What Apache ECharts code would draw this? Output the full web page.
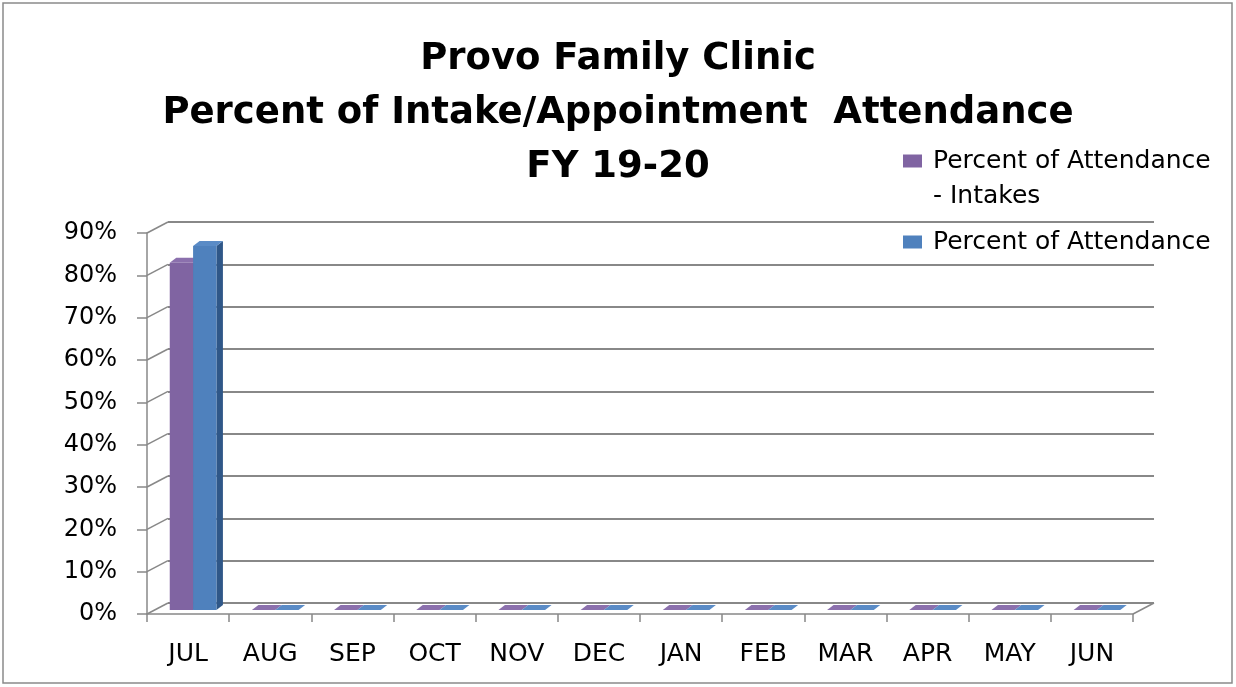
<!DOCTYPE html>
<html><head><meta charset="utf-8">
<script src="https://cdn.jsdelivr.net/npm/echarts@6/dist/echarts.min.js"></script>
<style>html,body{margin:0;padding:0;background:#fff}#c{width:1236px;height:687px}</style>
</head><body><div id="c"></div>
<script>
// ---- data ----
const months = ['JUL','AUG','SEP','OCT','NOV','DEC','JAN','FEB','MAR','APR','MAY','JUN'];
const intakesPct = [0.82,0,0,0,0,0,0,0,0,0,0,0];
const attendancePct = [0.86,0,0,0,0,0,0,0,0,0,0,0];
const yTickValues = [0,0.1,0.2,0.3,0.4,0.5,0.6,0.7,0.8,0.9];
const seriesNames = ['Percent of Attendance - Intakes','Percent of Attendance'];
const titleLines = ['Provo Family Clinic','Percent of Intake/Appointment  Attendance','FY 19-20'];

// ---- styling / geometry ----
const FONT = 'DejaVu Sans';
const GRAY = '#888888';
const GL = 147, GR = 1133, GT = 233, GB = 614;      // front plane
const DEPTH = [21, -11];                              // front -> back wall
const MID = [5, -4];                                   // bar front plane offset
const BD = [6.5, -5];                                  // bar depth
const colors = {
  purple: {front:'#8064A2', side:'#5F497A', top:'#8B70AD'},
  blue:   {front:'#4F81BD', side:'#2F5788', top:'#5A8BC6'}
};

function makeRender(which, c) {
  return function (params, api) {
    const i = api.value(0), v = api.value(1);
    const t = api.coord([i, v]);
    const b = api.coord([i, 0]);
    const band = api.size([1, 0])[0];
    const w = band * 0.284;
    const x0 = t[0] + MID[0] + (which === 0 ? -w : 0);
    const x1 = x0 + w;
    const yt = t[1] + MID[1], yb = b[1] + MID[1];
    const children = [];
    if (yb - yt > 0.5) {
      children.push({type:'polygon', shape:{points:[[x1,yt],[x1+BD[0],yt+BD[1]],[x1+BD[0],yb+BD[1]],[x1,yb]]}, style:{fill:c.side}});
      children.push({type:'rect', shape:{x:x0, y:yt, width:w, height:yb-yt}, style:{fill:c.front}});
    }
    children.push({type:'polygon', shape:{points:[[x0,yt],[x0+BD[0],yt+BD[1]],[x1+BD[0],yt+BD[1]],[x1,yt]]}, style:{fill:c.top}});
    return {type:'group', children};
  };
}

const chart = echarts.init(document.getElementById('c'));
const LH = 35;
const option = {
  backgroundColor: '#fff',
  animation: false,
  title: {
    text: titleLines.join('\n'),
    left: 'center', top: 27,
    textStyle: {fontFamily: FONT, fontWeight: 'bold', fontSize: 37, lineHeight: 54, color: '#000'}
  },
  legend: [
    {
      data: [seriesNames[0]], orient: 'vertical', left: 903, top: 161 - 1.5 * LH, padding: 0,
      icon: 'rect', itemWidth: 19, itemHeight: 13, selectedMode: false,
      formatter: () => ' \nPercent of Attendance\n- Intakes',
      textStyle: {fontFamily: FONT, fontSize: 25, lineHeight: LH, color: '#000', padding: [0, 0, 0, 6]}
    },
    {
      data: [seriesNames[1]], orient: 'vertical', left: 903, top: 242 - 0.5 * LH, padding: 0,
      icon: 'rect', itemWidth: 19, itemHeight: 13, selectedMode: false,
      textStyle: {fontFamily: FONT, fontSize: 25, lineHeight: LH, color: '#000', padding: [0, 0, 0, 6]}
    }
  ],
  grid: [
    {left: GL, right: 1236 - GR, top: GT, bottom: 687 - GB},
    {left: GL + DEPTH[0], right: 1236 - GR - DEPTH[0], top: GT + DEPTH[1], bottom: 687 - GB - DEPTH[1]}
  ],
  xAxis: [
    {
      type: 'category', gridIndex: 0, data: months, boundaryGap: true,
      axisLine: {show: true, lineStyle: {color: GRAY, width: 1.5}},
      axisTick: {show: true, length: 8, lineStyle: {color: GRAY, width: 1.5}},
      axisLabel: {fontFamily: FONT, fontSize: 25, color: '#000', margin: 28},
      splitLine: {show: false}
    },
    {
      type: 'category', gridIndex: 1, data: months, show: false
    }
  ],
  yAxis: [
    {
      type: 'value', gridIndex: 0, min: 0, max: 0.9, interval: 0.1,
      axisLine: {show: true, lineStyle: {color: GRAY, width: 1.5}},
      axisTick: {show: true, length: 10, lineStyle: {color: GRAY, width: 1.5}},
      axisLabel: {fontFamily: FONT, fontSize: 24, color: '#000', margin: 30,
        formatter: v => Math.round(v * 100) + '%'},
      splitLine: {show: false}
    },
    {
      type: 'value', gridIndex: 1, min: 0, max: 0.9, interval: 0.1,
      axisLine: {show: false}, axisTick: {show: false}, axisLabel: {show: false},
      splitLine: {show: true, lineStyle: {color: GRAY, width: 1.8}}
    }
  ],
  series: [
    {
      name: seriesNames[0], type: 'custom', xAxisIndex: 0, yAxisIndex: 0,
      itemStyle: {color: colors.purple.front},
      renderItem: makeRender(0, colors.purple),
      encode: {x: 0, y: 1},
      data: months.map((m, i) => [i, intakesPct[i]]),
      z: 5
    },
    {
      name: seriesNames[1], type: 'custom', xAxisIndex: 0, yAxisIndex: 0,
      itemStyle: {color: colors.blue.front},
      renderItem: makeRender(1, colors.blue),
      encode: {x: 0, y: 1},
      data: months.map((m, i) => [i, attendancePct[i]]),
      z: 6
    }
  ]
};
chart.setOption(option);

// depth connectors (left wall slants + floor right edge), positioned via the axis scale
const g = [];
yTickValues.forEach(v => {
  const y = chart.convertToPixel({yAxisIndex: 0}, v);
  g.push({type:'line', shape:{x1:GL, y1:y, x2:GL+DEPTH[0], y2:y+DEPTH[1]}, style:{stroke:GRAY, lineWidth:1.5}, z: 1});
});
const y0 = chart.convertToPixel({yAxisIndex: 0}, 0);
g.push({type:'line', shape:{x1:GR, y1:y0, x2:GR+DEPTH[0], y2:y0+DEPTH[1]}, style:{stroke:GRAY, lineWidth:1.5}, z: 1});
g.push({type:'rect', shape:{x:3, y:3, width:1229, height:680}, style:{fill:'none', stroke:'#8a8a8a', lineWidth:1.5}, z: 0});
chart.setOption({graphic: g});
</script>
</body></html>
